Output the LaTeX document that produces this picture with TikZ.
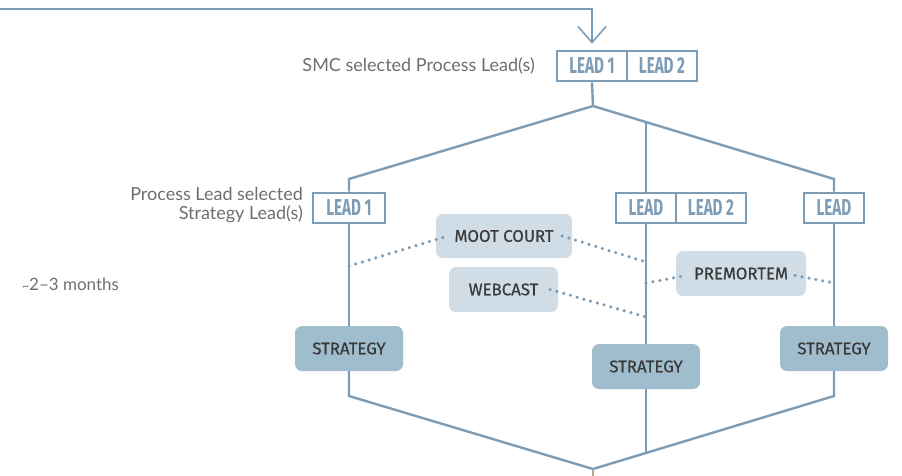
\documentclass[tikz,border=0pt]{standalone}
\usepackage{fontspec}
\setmainfont{Lato}
\newfontfamily\leadfont[FakeStretch=0.66]{Fira Sans}
\newfontfamily\boxfont[FakeBold=0.6]{Fira Sans}
\usetikzlibrary{arrows.meta}
\definecolor{steel}{HTML}{7D9CB6}
\definecolor{pill}{HTML}{D0DDE6}
\definecolor{strat}{HTML}{9FBDCD}
\definecolor{darktext}{HTML}{3A3A3A}
\definecolor{graytext}{HTML}{6E6E6E}
\definecolor{tanline}{HTML}{B8A690}
\begin{document}
\begin{tikzpicture}[x=1pt,y=-1pt,
  conn/.style={draw=steel,line width=2.4pt},
  dots/.style={draw=steel,line width=3.5pt,dash pattern=on 0pt off 7pt,line cap=round},
  leadbox/.style={draw=steel,line width=2.6pt,minimum height=30pt,inner sep=0pt,fill=white,
    text=steel,font=\leadfont\bfseries\fontsize{23}{23}\selectfont},
  pillbox/.style={fill=pill,rounded corners=7pt,minimum height=45pt,inner sep=0pt,
    text=darktext,font=\boxfont\fontsize{16.8}{17}\selectfont},
  stratbox/.style={fill=strat,rounded corners=7pt,minimum height=45pt,minimum width=108pt,inner sep=0pt,
    text=darktext,font=\boxfont\fontsize{16.8}{17}\selectfont},
  lbl/.style={text=graytext,font=\fontsize{18}{19}\selectfont,inner sep=0pt}]
\useasboundingbox (0,0) rectangle (902,475);

% coordinates of the hexagon
\coordinate (start) at (-3,9);
\coordinate (apT) at (593,106);
\coordinate (tl) at (349,179);
\coordinate (tr) at (834,179);
\coordinate (mt) at (646,122);
\coordinate (apB) at (593,469);
\coordinate (bl) at (349,396);
\coordinate (br) at (834,396);
\coordinate (mb) at (646,453);
\coordinate (bend) at (593,478);
\coordinate (m1) at (349,266);
\coordinate (m2) at (646,262);
\coordinate (w2) at (646,317);
\coordinate (p1) at (646,283);
\coordinate (p2) at (834,283);

% boxes
\node[leadbox,minimum width=70pt] (lead1a) at (592,66) {LEAD 1};
\node[leadbox,minimum width=70pt] (lead2a) at (662,66) {LEAD 2};
\node[leadbox,minimum width=72pt] (leftlead) at (349,208) {LEAD 1};
\node[leadbox,minimum width=60pt] (midlead1) at (646,208) {LEAD};
\node[leadbox,minimum width=70pt] (midlead2) at (711,208) {LEAD 2};
\node[leadbox,minimum width=60pt] (rightlead) at (834,208) {LEAD};

\node[pillbox,minimum width=136pt,minimum height=44pt] (moot) at (504,236) {MOOT COURT};
\node[pillbox,minimum width=109pt] (webcast) at (503.5,289.5) {WEBCAST};
\node[pillbox,minimum width=130pt] (premortem) at (741,273.5) {PREMORTEM};

\node[stratbox] (lstrat) at (349,348.5) {STRATEGY};
\node[stratbox] (mstrat) at (646,366.5) {STRATEGY};
\node[stratbox] (rstrat) at (834,348.5) {STRATEGY};

% labels
\node[lbl,anchor=east] (smc) at (535,66) {SMC selected Process Lead(s)};
\node[lbl,anchor=east,align=right] (pls) at (303,205) {Process Lead selected\\Strategy Lead(s)};
\node[lbl,anchor=west,font=\fontsize{17}{18}\selectfont] (months) at (22,284) {{\fontsize{12}{12}\selectfont\textasciitilde}2–3 months};

% connectors
\draw[conn,-{Straight Barb[length=16pt,width=28pt,line width=1.6pt]},shorten >=6pt] (start) -| (lead1a.north);
\draw[conn] (lead1a.south) -- (apT);
\draw[conn] (apT) -- (tl) -- (leftlead.north);
\draw[conn] (apT) -- (tr) -- (rightlead.north);
\draw[conn] (mt) -- (midlead1.north);
\draw[conn] (leftlead.south) -- (lstrat.north);
\draw[conn] (midlead1.south) -- (mstrat.north);
\draw[conn] (rightlead.south) -- (rstrat.north);
\draw[conn] (lstrat.south) -- (bl) -- (apB) -- (br) -- (rstrat.south);
\draw[conn] (mstrat.south) -- (mb);
\draw[draw=tanline,line width=2.4pt] (apB) -- (bend);

% dotted links
\draw[dots] (m1) -- ([xshift=12pt]moot.west);
\draw[dots] ([xshift=-10pt]moot.east) -- (m2);
\draw[dots] ([xshift=-8pt]webcast.east) -- (w2);
\draw[dots] (p1) -- ([xshift=11pt,yshift=-2pt]premortem.west);
\draw[dots] ([xshift=-11pt,yshift=-2pt]premortem.east) -- (p2);
\end{tikzpicture}
\end{document}
